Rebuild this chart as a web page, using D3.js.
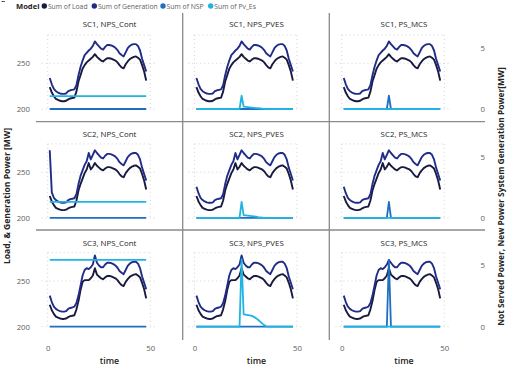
<!DOCTYPE html>
<html><head><meta charset="utf-8">
<script src="https://cdn.jsdelivr.net/npm/d3@7"></script>
<style>
body{margin:0;background:#fff}
svg{display:block;font-family:"Open Sans",sans-serif}
</style>
</head><body>
<svg id="chart" width="507" height="366"></svg>
<script>
// ---------- data ----------
const scenarios = ["SC1", "SC2", "SC3"];
const models = ["NPS_Cont", "NPS_PVES", "PS_MCS"];
const seriesNames = ["Sum of Load", "Sum of Generation", "Sum of NSP", "Sum of Pv_Es"];
const seriesColors = ["#181a3e", "#212c88", "#1e6fc2", "#1fb4e3"];
const timeSteps = [1,2,3,4,5,6,7,8,9,10,11,12,13,14,15,16,17,18,19,20,21,22,23,24,
  25,26,27,28,29,30,31,32,33,34,35,36,37,38,39,40,41,42,43,44,45,46,47,48];
const xTicks = [0, 50];
const leftTicks = [200, 250];
const rightTicks = [0, 5];

const loadSC1 = [224,218,214,211,210,209,208.5,208.5,209,210.5,211.5,212,
  212.5,219,230,237,244,248,251,253,255,257,260,257,
  255,253,252,254,255.5,255.5,255,254,253,251,248,245.5,
  244.5,249,252,254.5,256,257,257.5,256,254,248,241,231];
const genSC1 = [234,227,222,219.5,218,217,216.5,216.5,217,219.5,220.5,221,
  221.5,226,237,246,253,259,261.5,264,266,269,274,271,
  268.5,266,265,268,270,270,269.5,268.5,267,264.5,261,259,
  257.5,262,266.5,269,270.5,271,271,269,264,255,248,241];
const loadSC2 = [224,218,214,211,210,209,208.5,208.5,209,210.5,211.5,212,
  212.5,219,230,237,243,249,253,260,253,256,260,257,
  255,253,252,254,255.5,255.5,255,254,253,251,248,245.5,
  244.5,249,252,254.5,256,257,257.5,256,254,248,241,231];
const genSC2 = [234,227,222,219.5,218,217,216.5,216.5,217,219.5,220.5,221,
  221.5,226,237,246,252,258,262,271,264,269,274,271,
  268.5,266,265,268,270,270,269.5,268.5,267,264.5,261,259,
  257.5,262,266.5,269,270.5,271,271,269,264,255,248,241];
const genSC2Cont = [274,228,222,219.5,218,217,216.5,216.5,217,219.5,220.5,221,
  221.5,226,237,246,252,258,262,271,264,269,274,271,
  268.5,266,265,268,270,270,269.5,268.5,267,264.5,261,259,
  257.5,262,266.5,269,270.5,271,271,269,264,255,248,241];
const loadSC3 = [224,218,214,211,210,209,208.5,208.5,209,210.5,211.5,212,
  212.5,219,228,240,249,251,251,251,253,256,264,257,
  255,253,252,254,255.5,255.5,255,254,253,251,248,245.5,
  244.5,249,252,254.5,256,257,257.5,256,254,248,241,231];
const genSC3 = [234,227,222,219.5,218,217,216.5,216.5,217,219.5,220.5,221,
  222,226,234,245,256,262,264,263,265,268,278,270,
  267,265,265,268,270,270,269.5,268.5,267,264.5,261,259,
  257.5,262,266.5,269,270.5,271,271,269,264,255,248,241];
const genSC3MCS = [234,227,222,219.5,218,217,216.5,216.5,217,219.5,220.5,221,
  222,226,234,245,256,262,264,263,265,268,273,270,
  267,265,265,268,270,270,269.5,268.5,267,264.5,261,259,
  257.5,262,266.5,269,270.5,271,271,269,264,255,248,241];

const zeroSeries = [0,0,0,0,0,0,0,0,0,0,0,0,
  0,0,0,0,0,0,0,0,0,0,0,0,
  0,0,0,0,0,0,0,0,0,0,0,0,
  0,0,0,0,0,0,0,0,0,0,0,0];
const nspMcsSC1 = [0,0,0,0,0,0,0,0,0,0,0,0,
  0,0,0,0,0,0,0,0,0,0,1.08,0,
  0,0,0,0,0,0,0,0,0,0,0,0,
  0,0,0,0,0,0,0,0,0,0,0,0];
const nspMcsSC2 = [0,0,0,0,0,0,0,0,0,0,0,0,
  0,0,0,0,0,0,0,0,0,0,1.3,0,
  0,0,0,0,0,0,0,0,0,0,0,0,
  0,0,0,0,0,0,0,0,0,0,0,0];
const nspMcsSC3 = [0,0,0,0,0,0,0,0,0,0,0,0,
  0,0,0,0,0,0,0,0,0,0,5.45,0,
  0,0,0,0,0,0,0,0,0,0,0,0,
  0,0,0,0,0,0,0,0,0,0,0,0];
const pvContSC1 = [1.05,1.05,1.05,1.05,1.05,1.05,1.05,1.05,1.05,1.05,1.05,1.05,
  1.05,1.05,1.05,1.05,1.05,1.05,1.05,1.05,1.05,1.05,1.05,1.05,
  1.05,1.05,1.05,1.05,1.05,1.05,1.05,1.05,1.05,1.05,1.05,1.05,
  1.05,1.05,1.05,1.05,1.05,1.05,1.05,1.05,1.05,1.05,1.05,1.05];
const pvContSC2 = [1.3,1.3,1.3,1.3,1.3,1.3,1.3,1.3,1.3,1.3,1.3,1.3,
  1.3,1.3,1.3,1.3,1.3,1.3,1.3,1.3,1.3,1.3,1.3,1.3,
  1.3,1.3,1.3,1.3,1.3,1.3,1.3,1.3,1.3,1.3,1.3,1.3,
  1.3,1.3,1.3,1.3,1.3,1.3,1.3,1.3,1.3,1.3,1.3,1.3];
const pvContSC3 = [5.45,5.45,5.45,5.45,5.45,5.45,5.45,5.45,5.45,5.45,5.45,5.45,
  5.45,5.45,5.45,5.45,5.45,5.45,5.45,5.45,5.45,5.45,5.45,5.45,
  5.45,5.45,5.45,5.45,5.45,5.45,5.45,5.45,5.45,5.45,5.45,5.45,
  5.45,5.45,5.45,5.45,5.45,5.45,5.45,5.45,5.45,5.45,5.45,5.45];
const pvPvesSC1 = [0,0,0,0,0,0,0,0,0,0,0,0,
  0,0,0,0,0,0,0,0,0,0,1.08,0.2,
  0.18,0.16,0.14,0.12,0.1,0.08,0.06,0.04,0.02,0.01,0,0,
  0,0,0,0,0,0,0,0,0,0,0,0];
const pvPvesSC2 = [0,0,0,0,0,0,0,0,0,0,0,0,
  0,0,0,0,0,0,0,0,0,0,1.3,0.22,
  0.2,0.18,0.16,0.14,0.12,0.1,0.07,0.05,0.03,0.01,0,0,
  0,0,0,0,0,0,0,0,0,0,0,0];
const pvPvesSC3 = [0,0,0,0,0,0,0,0,0,0,0,0,
  0,0,0,0,0,0,0,0,0,0,5.5,1.0,
  0.98,0.95,0.92,0.88,0.8,0.7,0.57,0.42,0.27,0.13,0.03,0,
  0,0,0,0,0,0,0,0,0,0,0,0];

// panel -> [load, generation, nsp, pv]
const panelSeries = {
  "SC1|NPS_Cont": [loadSC1, genSC1, zeroSeries, pvContSC1],
  "SC1|NPS_PVES": [loadSC1, genSC1, zeroSeries, pvPvesSC1],
  "SC1|PS_MCS":   [loadSC1, genSC1, nspMcsSC1, zeroSeries],
  "SC2|NPS_Cont": [loadSC2, genSC2Cont, zeroSeries, pvContSC2],
  "SC2|NPS_PVES": [loadSC2, genSC2, zeroSeries, pvPvesSC2],
  "SC2|PS_MCS":   [loadSC2, genSC2, nspMcsSC2, zeroSeries],
  "SC3|NPS_Cont": [loadSC3, genSC3, zeroSeries, pvContSC3],
  "SC3|NPS_PVES": [loadSC3, genSC3, zeroSeries, pvPvesSC3],
  "SC3|PS_MCS":   [loadSC3, genSC3MCS, nspMcsSC3, zeroSeries]
};

// ---------- layout ----------
const svg = d3.select("#chart");
const colX0 = [47.7, 194.4, 341.7];
const plotW = 102.6;
const rowY0 = [109, 217.9, 326.7];
const leftSpan = 45.7;   // px per 50 MW
const rightSpan = 61.3;  // px per 5 MW
const cellCenter = [109.5, 256.5, 404];
const titleY = [27, 136.5, 245.5];
const txt = "#605e5c";

// legend
svg.append("line").attr("x1", 1.5).attr("x2", 5).attr("y1", 1.5).attr("y2", 1.5)
  .attr("stroke", "#555").attr("stroke-width", 1);
svg.append("text").attr("x", 16).attr("y", 9).attr("font-size", 7.6)
  .attr("font-weight", "bold").attr("fill", "#252423").text("Model");
const legX = [44.3, 94.3, 163, 210.7];
seriesNames.forEach((n, i) => {
  svg.append("circle").attr("cx", legX[i]).attr("cy", 6).attr("r", 2.7).attr("fill", seriesColors[i]);
  svg.append("text").attr("x", legX[i] + 3.6).attr("y", 8.6).attr("font-size", 6.8)
    .attr("fill", txt).text(n);
});

// separators
[121.7, 230].forEach(y => svg.append("line").attr("x1", 36).attr("x2", 485)
  .attr("y1", y).attr("y2", y).attr("stroke", "#8a8a8a").attr("stroke-width", 1.3));
[182.7, 329.3].forEach(x => svg.append("line").attr("x1", x).attr("x2", x)
  .attr("y1", 13).attr("y2", 340).attr("stroke", "#8a8a8a").attr("stroke-width", 1.3));

scenarios.forEach((sc, r) => {
  models.forEach((m, c) => {
    const x = d3.scaleLinear().domain([0, 50]).range([colX0[c], colX0[c] + plotW]);
    const yL = d3.scaleLinear().domain([200, 250]).range([rowY0[r], rowY0[r] - leftSpan]);
    const yR = d3.scaleLinear().domain([0, 5]).range([rowY0[r], rowY0[r] - rightSpan]);
    const g = svg.append("g");
    const top = rowY0[r] - 74;

    // grid
    const grid = g.append("g").attr("stroke", "#c8c8c8").attr("stroke-width", 0.8)
      .attr("stroke-dasharray", "1,3");
    leftTicks.forEach(v => grid.append("line").attr("x1", x(-3)).attr("x2", x(53))
      .attr("y1", yL(v)).attr("y2", yL(v)));
    grid.append("line").attr("x1", x(0)).attr("x2", x(50)).attr("y1", top).attr("y2", top);
    xTicks.forEach(v => grid.append("line").attr("x1", x(v)).attr("x2", x(v))
      .attr("y1", top).attr("y2", rowY0[r] + 2));

    // title
    svg.append("text").attr("x", cellCenter[c]).attr("y", titleY[r])
      .attr("text-anchor", "middle").attr("font-size", 7.9).attr("fill", "#252423")
      .text(sc + ", " + m);

    const s = panelSeries[sc + "|" + m];
    const lineL = d3.line().x((d, i) => x(timeSteps[i])).y(d => yL(d));
    const lineR = d3.line().x((d, i) => x(timeSteps[i])).y(d => yR(d));
    g.append("path").attr("d", lineL(s[0])).attr("fill", "none")
      .attr("stroke", seriesColors[0]).attr("stroke-width", 1.9).attr("stroke-linejoin", "round");
    g.append("path").attr("d", lineL(s[1])).attr("fill", "none")
      .attr("stroke", seriesColors[1]).attr("stroke-width", 1.9).attr("stroke-linejoin", "round");
    g.append("path").attr("d", lineR(s[2])).attr("fill", "none")
      .attr("stroke", seriesColors[2]).attr("stroke-width", 1.8).attr("stroke-linejoin", "round");
    g.append("path").attr("d", lineR(s[3])).attr("fill", "none")
      .attr("stroke", seriesColors[3]).attr("stroke-width", 1.8).attr("stroke-linejoin", "round");

    if (c === 0) {
      const ax = svg.append("g").attr("transform", `translate(32,0)`)
        .call(d3.axisLeft(yL).tickValues(leftTicks).tickFormat(d3.format("d")).tickSize(0).tickPadding(2));
      ax.select(".domain").remove();
      ax.selectAll("text").attr("font-size", 7.8).attr("fill", txt).attr("font-family", "Open Sans");
    }
    if (c === 2) {
      const ax = svg.append("g").attr("transform", `translate(480.5,0)`)
        .call(d3.axisRight(yR).tickValues(rightTicks).tickFormat(d3.format("d")).tickSize(0).tickPadding(0));
      ax.select(".domain").remove();
      ax.selectAll("text").attr("font-size", 7.8).attr("fill", txt).attr("font-family", "Open Sans");
    }
    if (r === 2) {
      const ax = svg.append("g").attr("transform", `translate(0,345.5)`)
        .call(d3.axisBottom(x).tickValues(xTicks).tickFormat(d3.format("d")).tickSize(0).tickPadding(0));
      ax.select(".domain").remove();
      ax.selectAll("text").attr("font-size", 7.8).attr("fill", txt).attr("font-family", "Open Sans");
      svg.append("text").attr("x", cellCenter[c]).attr("y", 364).attr("text-anchor", "middle")
        .attr("font-size", 8.8).attr("font-weight", 600).attr("fill", "#252423").text("time");
    }
  });
});

// axis titles
svg.append("text").attr("transform", "translate(9.5,196) rotate(-90)")
  .attr("text-anchor", "middle").attr("font-size", 8.6).attr("font-weight", "bold")
  .attr("fill", "#252423").text("Load, & Generation Power [MW]");
svg.append("text").attr("transform", "translate(504,196.5) rotate(-90)")
  .attr("text-anchor", "middle").attr("font-size", 8.4).attr("font-weight", "bold")
  .attr("fill", "#252423").text("Not Served Power, New Power System Generation Power[MW]");
</script>
</body></html>
